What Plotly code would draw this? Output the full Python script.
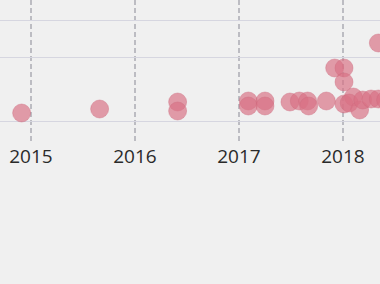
import plotly.graph_objects as go

# Data (x in fractional years, y in chart units)
years = [2014.91, 2015.66, 2016.41, 2016.41, 2017.09, 2017.09, 2017.25, 2017.25,
         2017.49, 2017.58, 2017.66, 2017.67, 2017.84, 2017.92, 2018.01, 2018.01,
         2018.01, 2018.10, 2018.06, 2018.16, 2018.19, 2018.27, 2018.34, 2018.34,
         2018.41]
values = [30, 34, 41, 32, 42, 37, 42, 37,
          41, 42, 42, 37, 42, 75, 75, 61,
          39, 46, 40, 33, 43, 44, 100, 44,
          43]

tick_years = [2015, 2016, 2017, 2018]
tick_labels = ["2015", "2016", "2017", "2018"]
y_grid = [22, 86, 123]

fig = go.Figure(
    go.Scatter(
        x=years, y=values, mode="markers",
        marker=dict(size=18, color="rgba(216,114,132,0.68)",
                    line=dict(color="rgba(205,105,125,0.4)", width=1)),
        hoverinfo="skip",
    )
)

fig.update_layout(
    width=380, height=284,
    margin=dict(l=0, r=0, t=0, b=141),
    paper_bgcolor="#f0f0f0", plot_bgcolor="#f0f0f0",
    showlegend=False,
    xaxis=dict(range=[2014.702, 2018.356], tickvals=tick_years, ticktext=tick_labels,
               showgrid=True, gridcolor="#bcbcc2", gridwidth=1.5, griddash="5px,3px",
               zeroline=False, showline=False, ticks="",
               tickfont=dict(family="Open Sans", size=19, color="#2a2a2a")),
    yaxis=dict(range=[0, 143], tickvals=y_grid, showticklabels=False,
               showgrid=True, gridcolor="#d6d6e0", gridwidth=1,
               zeroline=False, showline=False, ticks=""),
)

fig.write_html("out.html")
